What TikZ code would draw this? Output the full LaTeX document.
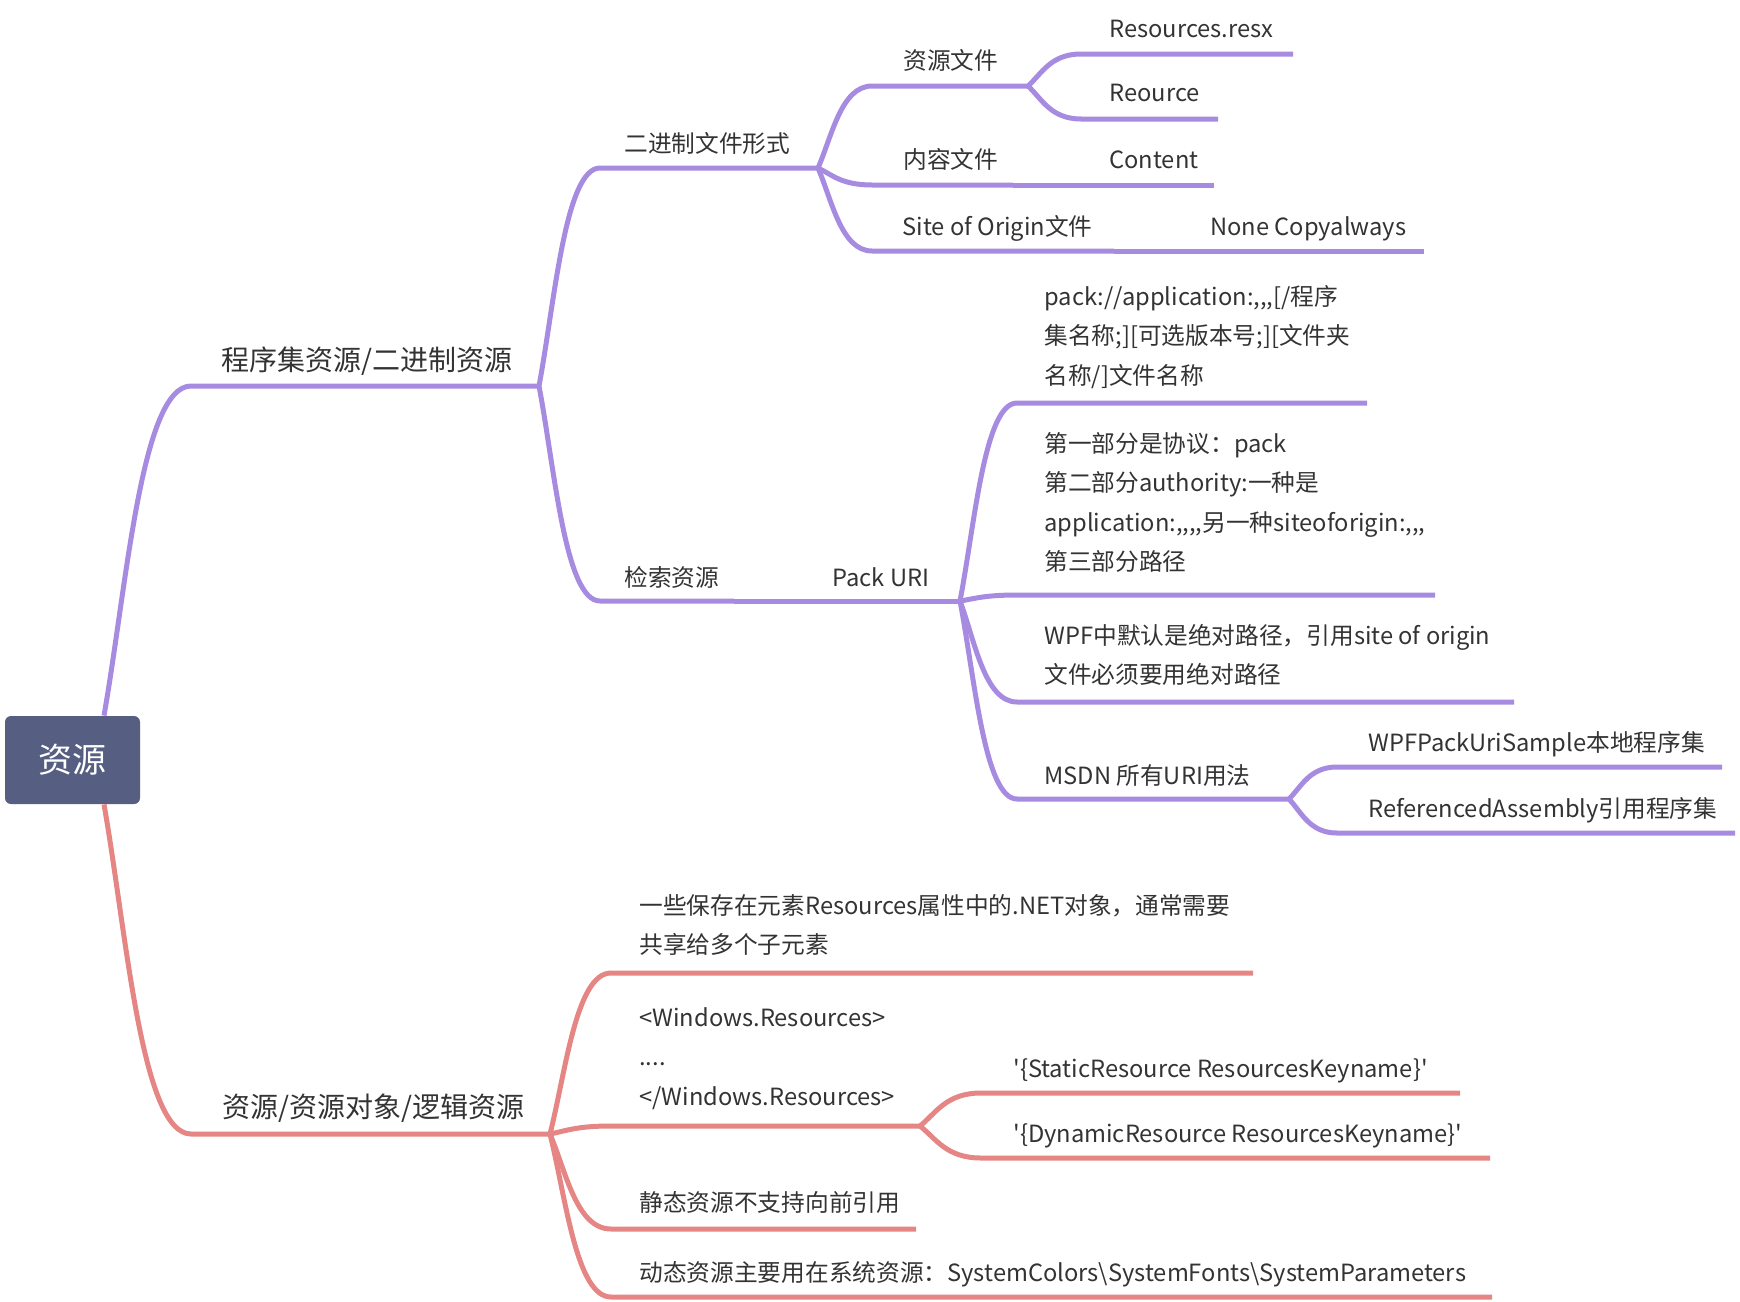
\documentclass[tikz,border=0pt]{standalone}
\usepackage{fontspec}
\newfontfamily\mfont{Noto Sans CJK SC}
\usetikzlibrary{calc}
\definecolor{purp}{HTML}{A68BE0}
\definecolor{redb}{HTML}{E58684}
\definecolor{rootc}{HTML}{565E82}
\definecolor{txt}{HTML}{333333}
\newcommand\mmconn[4]{%
  \draw[#4] let \p1=(#1), \p2=(#2) in (\p1) .. controls ({\x1+0.26*(\x2-\x1)},{\y1+0.39*(\y2-\y1)}) and ({\x2-0.57*(\x2-\x1)},{\y2}) .. (\p2) -- (#3);}
\begin{document}
\begin{tikzpicture}[x=0.5pt,y=-0.5pt,
  pl/.style={draw=purp,line width=2.5pt,line cap=butt},
  rl/.style={draw=redb,line width=2.5pt,line cap=butt},
  lbl/.style={font=\mfont\fontsize{11.85}{19.75}\selectfont,text=txt,inner sep=0pt,anchor=base west},
  lbla/.style={font=\mfont\fontsize{14}{18}\selectfont,text=txt,inner sep=0pt,anchor=base west},
  rootbox/.style={fill=rootc,rounded corners=3pt,minimum width=67.5pt,minimum height=44pt,inner sep=0pt,text=white,font=\mfont\fontsize{17}{20}\selectfont}]
\useasboundingbox (0,0) rectangle (1740,1301);
% root
\node[rootbox] (root) at (72.5,760) {资源};
\coordinate (rtop) at ($(root.north)+(15.75pt,0)$);
\coordinate (rbot) at ($(root.south)+(15.75pt,0)$);
% ---- purple branch coordinates
\coordinate (a1s) at (191,386);  \coordinate (a1) at (539,386);
\coordinate (b1s) at (600,168);  \coordinate (b1) at (818,168);
\coordinate (b2s) at (600,601);  \coordinate (b2) at (734,601);
\coordinate (cp) at (960,601);
\coordinate (c1s) at (872,86);   \coordinate (c1) at (1028,86);
\coordinate (r1s) at (1081,54);  \coordinate (r1) at (1293,54);
\coordinate (r2s) at (1081,119); \coordinate (r2) at (1218,119);
\coordinate (c2s) at (872,185);  \coordinate (c2) at (1013,185);
\coordinate (c2e) at (1214,185);
\coordinate (c3s) at (872,251);  \coordinate (c3) at (1114,251);
\coordinate (c3e) at (1424,251);
\coordinate (p1s) at (1017,403); \coordinate (p1) at (1367,403);
\coordinate (p2s) at (1017,595); \coordinate (p2) at (1435,595);
\coordinate (p3s) at (1017,702); \coordinate (p3) at (1514,702);
\coordinate (p4s) at (1017,799); \coordinate (p4) at (1289,799);
\coordinate (m1s) at (1337,767); \coordinate (m1) at (1722,767);
\coordinate (m2s) at (1337,833); \coordinate (m2) at (1735,833);
% ---- red branch coordinates
\coordinate (e1s) at (191,1134); \coordinate (e1) at (550,1134);
\coordinate (g1s) at (611,973);  \coordinate (g1) at (1253,973);
\coordinate (g2s) at (611,1126); \coordinate (g2) at (920,1126);
\coordinate (h1s) at (981,1093); \coordinate (h1) at (1460,1093);
\coordinate (h2s) at (981,1158); \coordinate (h2) at (1490,1158);
\coordinate (g3s) at (611,1229); \coordinate (g3) at (916,1229);
\coordinate (g4s) at (611,1297); \coordinate (g4) at (1492,1297);
% ---- purple connectors
\mmconn{rtop}{a1s}{a1}{pl}
\mmconn{a1}{b1s}{b1}{pl}
\mmconn{a1}{b2s}{b2}{pl}
\draw[pl] (b2) -- (cp);
\mmconn{b1}{c1s}{c1}{pl}
\mmconn{c1}{r1s}{r1}{pl}
\mmconn{c1}{r2s}{r2}{pl}
\mmconn{b1}{c2s}{c2}{pl}
\draw[pl] (c2) -- (c2e);
\mmconn{b1}{c3s}{c3}{pl}
\draw[pl] (c3) -- (c3e);
\mmconn{cp}{p1s}{p1}{pl}
\mmconn{cp}{p2s}{p2}{pl}
\mmconn{cp}{p3s}{p3}{pl}
\mmconn{cp}{p4s}{p4}{pl}
\mmconn{p4}{m1s}{m1}{pl}
\mmconn{p4}{m2s}{m2}{pl}
% ---- red connectors
\mmconn{rbot}{e1s}{e1}{rl}
\mmconn{e1}{g1s}{g1}{rl}
\mmconn{e1}{g2s}{g2}{rl}
\mmconn{g2}{h1s}{h1}{rl}
\mmconn{g2}{h2s}{h2}{rl}
\mmconn{e1}{g3s}{g3}{rl}
\mmconn{e1}{g4s}{g4}{rl}
% ---- labels
\node[lbla] (ta1) at (221,370) {程序集资源/二进制资源};
\node[lbl] (tb1) at (624,152) {二进制文件形式};
\node[lbl] (tb2) at (624,586) {检索资源};
\node[lbl] (tpk) at (832,586) {Pack URI};
\node[lbl] (tc1) at (903,69) {资源文件};
\node[lbl] (tr1) at (1109,37) {Resources.resx};
\node[lbl] (tr2) at (1109,101) {Reource};
\node[lbl] (tc2) at (903,168) {内容文件};
\node[lbl] (tc2e) at (1109,168) {Content};
\node[lbl] (tc3) at (902,235) {Site of Origin文件};
\node[lbl] (tc3e) at (1210,235) {None Copyalways};
\node[lbl] (tp1) at (1044,305) {\begin{tabular}[t]{@{}l@{}}pack://application:,,,[/程序\\集名称;][可选版本号;][文件夹\\名称/]文件名称\end{tabular}};
\node[lbl] (tp2) at (1044,452) {\begin{tabular}[t]{@{}l@{}}第一部分是协议：pack\\第二部分authority:一种是\\application:,,,,另一种siteoforigin:,,,\\第三部分路径\end{tabular}};
\node[lbl] (tp3) at (1044,644) {\begin{tabular}[t]{@{}l@{}}WPF中默认是绝对路径，引用site of origin\\文件必须要用绝对路径\end{tabular}};
\node[lbl] (tp4) at (1044,784) {MSDN 所有URI用法};
\node[lbl] (tm1) at (1368,751) {WPFPackUriSample本地程序集};
\node[lbl] (tm2) at (1368,817) {ReferencedAssembly引用程序集};
\node[lbla] (te1) at (222,1117) {资源/资源对象/逻辑资源};
\node[lbl] (tg1) at (639,914) {\begin{tabular}[t]{@{}l@{}}一些保存在元素Resources属性中的.NET对象，通常需要\\共享给多个子元素\end{tabular}};
\node[lbl] (tg2) at (639,1026) {\begin{tabular}[t]{@{}l@{}}<Windows.Resources>\\....\\</Windows.Resources>\end{tabular}};
\node[lbl] (th1) at (1013,1077) {'\{StaticResource ResourcesKeyname\}'};
\node[lbl] (th2) at (1013,1142) {'\{DynamicResource ResourcesKeyname\}'};
\node[lbl] (tg3) at (639,1211) {静态资源不支持向前引用};
\node[lbl] (tg4) at (639,1281) {动态资源主要用在系统资源：SystemColors\textbackslash SystemFonts\textbackslash SystemParameters};
\end{tikzpicture}
\end{document}
